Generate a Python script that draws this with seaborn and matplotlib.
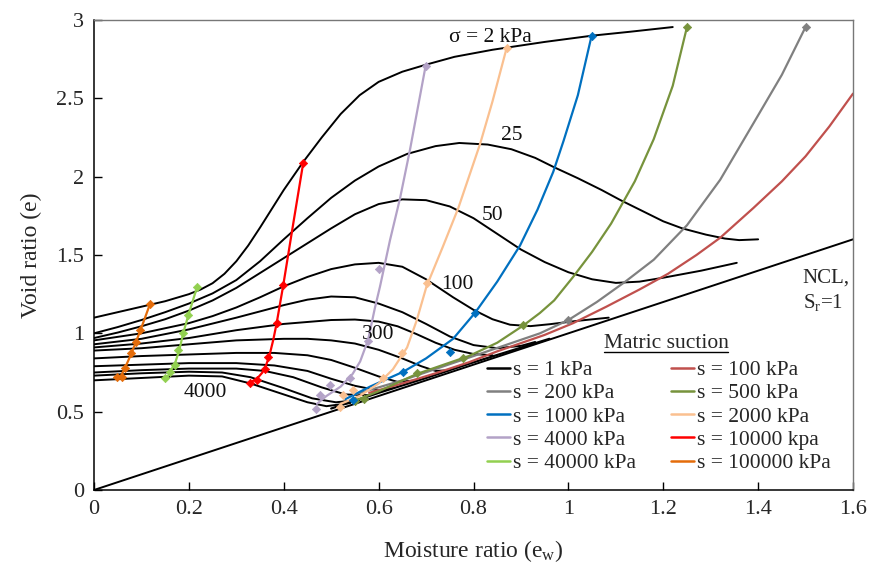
import numpy as np
import pandas as pd
import matplotlib
matplotlib.use("Agg")
import matplotlib.pyplot as plt
from matplotlib.lines import Line2D
import seaborn as sns

# ---------------- data ----------------
# constant net-stress curves (black)
c1_x = [0, 0.05, 0.1, 0.15, 0.2, 0.225, 0.25, 0.275, 0.3, 0.325, 0.35, 0.375, 0.4, 0.44, 0.48, 0.52, 0.56, 0.6, 0.65, 0.7, 0.76, 0.84, 0.95, 1.05, 1.13, 1.22]
c1_y = [1.10, 1.135, 1.17, 1.205, 1.25, 1.28, 1.32, 1.38, 1.46, 1.56, 1.675, 1.795, 1.915, 2.09, 2.25, 2.40, 2.52, 2.605, 2.67, 2.715, 2.765, 2.81, 2.86, 2.90, 2.925, 2.955]
c2_x = [0, 0.05, 0.1, 0.15, 0.2, 0.25, 0.3, 0.35, 0.4, 0.45, 0.5, 0.55, 0.6, 0.66, 0.72, 0.77, 0.83, 0.88, 0.93, 0.97, 1.02, 1.07, 1.11, 1.16, 1.2, 1.24, 1.29, 1.33, 1.36, 1.40]
c2_y = [1.00, 1.04, 1.085, 1.135, 1.19, 1.255, 1.34, 1.46, 1.60, 1.735, 1.865, 1.975, 2.065, 2.145, 2.195, 2.215, 2.205, 2.175, 2.12, 2.06, 1.99, 1.915, 1.85, 1.775, 1.715, 1.67, 1.63, 1.605, 1.595, 1.60]
c3_x = [0, 0.05, 0.1, 0.15, 0.2, 0.25, 0.3, 0.35, 0.4, 0.45, 0.5, 0.55, 0.6, 0.65, 0.7, 0.75, 0.8, 0.85, 0.9, 0.95, 1.0, 1.05, 1.1, 1.15, 1.2, 1.28, 1.355]
c3_y = [0.97, 1.005, 1.045, 1.09, 1.145, 1.21, 1.29, 1.385, 1.48, 1.575, 1.67, 1.76, 1.825, 1.855, 1.85, 1.81, 1.735, 1.635, 1.535, 1.455, 1.39, 1.345, 1.322, 1.33, 1.355, 1.40, 1.45]
c4_x = [0, 0.1, 0.2, 0.25, 0.3, 0.35, 0.4, 0.45, 0.5, 0.55, 0.6, 0.65, 0.7, 0.757, 0.8, 0.84, 0.877, 0.92, 0.96, 1.02, 1.085]
c4_y = [0.955, 1.0, 1.065, 1.11, 1.165, 1.23, 1.30, 1.36, 1.41, 1.44, 1.45, 1.425, 1.345, 1.23, 1.15, 1.09, 1.055, 1.046, 1.058, 1.08, 1.10]
c5_x = [0, 0.1, 0.2, 0.3, 0.35, 0.4, 0.45, 0.5, 0.55, 0.6, 0.65, 0.7, 0.75, 0.8, 0.85, 0.9, 0.93]
c5_y = [0.93, 0.965, 1.025, 1.10, 1.14, 1.18, 1.215, 1.235, 1.23, 1.19, 1.135, 1.06, 0.98, 0.925, 0.905, 0.92, 0.945]
c6_x = [0, 0.1, 0.2, 0.3, 0.4, 0.5, 0.55, 0.6, 0.64, 0.68, 0.72, 0.76, 0.80, 0.84]
c6_y = [0.91, 0.935, 0.97, 1.02, 1.06, 1.085, 1.088, 1.075, 1.045, 0.995, 0.94, 0.895, 0.868, 0.86]
c7_x = [0, 0.1, 0.2, 0.3, 0.4, 0.45, 0.5, 0.55, 0.6, 0.65, 0.69, 0.72, 0.75]
c7_y = [0.89, 0.905, 0.93, 0.955, 0.965, 0.965, 0.955, 0.935, 0.895, 0.84, 0.79, 0.76, 0.765]
c8_x = [0, 0.1, 0.2, 0.3, 0.38, 0.45, 0.5, 0.55, 0.6, 0.64, 0.68]
c8_y = [0.84, 0.855, 0.865, 0.875, 0.875, 0.86, 0.83, 0.78, 0.725, 0.69, 0.70]
c9_x = [0, 0.1, 0.2, 0.3, 0.38, 0.45, 0.5, 0.55, 0.6, 0.63]
c9_y = [0.79, 0.80, 0.81, 0.81, 0.795, 0.76, 0.71, 0.665, 0.635, 0.65]
c10_x = [0, 0.1, 0.2, 0.3, 0.36, 0.42, 0.48, 0.53, 0.58]
c10_y = [0.75, 0.765, 0.775, 0.775, 0.76, 0.72, 0.655, 0.61, 0.605]
c11_x = [0, 0.1, 0.2, 0.27, 0.33, 0.4, 0.46, 0.51, 0.56]
c11_y = [0.73, 0.745, 0.755, 0.75, 0.72, 0.65, 0.585, 0.56, 0.575]
c12_x = [0, 0.1, 0.2, 0.27, 0.33, 0.4, 0.45, 0.49, 0.54]
c12_y = [0.70, 0.715, 0.73, 0.725, 0.68, 0.61, 0.56, 0.535, 0.555]

ncl_x = [0, 1.6]
ncl_y = [0, 1.6]

# matric suction lines (line points and data markers)
s1_x = [0.50, 0.60, 0.70, 0.80, 0.96]
s1_y = [0.52, 0.62, 0.715, 0.815, 0.965]
s100_x = [0.58, 0.65, 0.72, 0.79, 0.85, 0.95, 1.01, 1.08, 1.15, 1.21, 1.27, 1.32, 1.39, 1.45, 1.50, 1.55, 1.60]
s100_y = [0.62, 0.68, 0.745, 0.815, 0.885, 0.99, 1.065, 1.17, 1.28, 1.38, 1.50, 1.61, 1.80, 1.97, 2.13, 2.32, 2.53]
s200_x = [0.55, 0.65, 0.80, 0.94, 1.00, 1.06, 1.12, 1.18, 1.25, 1.32, 1.39, 1.45, 1.50]
s200_y = [0.61, 0.70, 0.855, 1.00, 1.085, 1.20, 1.33, 1.47, 1.69, 1.98, 2.34, 2.65, 2.955]
s200_mx = [1.00, 1.50]
s200_my = [1.085, 2.955]
s500_x = [0.55, 0.60, 0.68, 0.79, 0.85, 0.905, 0.94, 0.97, 1.01, 1.05, 1.09, 1.14, 1.18, 1.22, 1.25]
s500_y = [0.57, 0.63, 0.74, 0.855, 0.94, 1.05, 1.13, 1.21, 1.36, 1.52, 1.70, 1.97, 2.24, 2.58, 2.955]
s500_mx = [0.55, 0.57, 0.68, 0.778, 0.905, 1.25]
s500_my = [0.57, 0.58, 0.745, 0.84, 1.053, 2.955]
s1000_x = [0.53, 0.582, 0.652, 0.70, 0.757, 0.803, 0.85, 0.898, 0.935, 0.968, 0.99, 1.02, 1.049]
s1000_y = [0.58, 0.66, 0.755, 0.84, 0.965, 1.13, 1.33, 1.56, 1.79, 2.03, 2.23, 2.52, 2.90]
s1000_mx = [0.545, 0.652, 0.75, 0.803, 1.049]
s1000_my = [0.575, 0.755, 0.883, 1.13, 2.90]
s2000_x = [0.52, 0.56, 0.60, 0.63, 0.66, 0.68, 0.701, 0.735, 0.768, 0.814, 0.84, 0.87]
s2000_y = [0.55, 0.60, 0.68, 0.77, 0.91, 1.08, 1.30, 1.55, 1.80, 2.21, 2.48, 2.823]
s2000_mx = [0.519, 0.525, 0.547, 0.61, 0.649, 0.701, 0.87]
s2000_my = [0.53, 0.606, 0.638, 0.713, 0.876, 1.319, 2.823]
s4000_x = [0.47, 0.49, 0.52, 0.545, 0.561, 0.578, 0.592, 0.603, 0.624, 0.645, 0.666, 0.699]
s4000_y = [0.55, 0.60, 0.66, 0.74, 0.82, 0.96, 1.16, 1.30, 1.595, 1.86, 2.17, 2.706]
s4000_mx = [0.469, 0.476, 0.497, 0.54, 0.578, 0.60, 0.699]
s4000_my = [0.52, 0.606, 0.67, 0.713, 0.95, 1.41, 2.706]
s10000_x = [0.329, 0.345, 0.355, 0.362, 0.37, 0.378, 0.385, 0.399, 0.42, 0.441]
s10000_y = [0.685, 0.715, 0.75, 0.79, 0.86, 0.96, 1.064, 1.308, 1.70, 2.087]
s10000_mx = [0.329, 0.343, 0.36, 0.367, 0.385, 0.399, 0.441]
s10000_my = [0.685, 0.70, 0.77, 0.847, 1.064, 1.308, 2.087]
s40000_x = [0.152, 0.16, 0.172, 0.18, 0.188, 0.199, 0.217]
s40000_y = [0.705, 0.75, 0.82, 0.895, 1.0, 1.117, 1.293]
s40000_mx = [0.15, 0.16, 0.171, 0.178, 0.188, 0.199, 0.217]
s40000_my = [0.713, 0.755, 0.798, 0.893, 1.0, 1.117, 1.293]
s100000_x = [0.05, 0.057, 0.065, 0.079, 0.0885, 0.098, 0.118]
s100000_y = [0.715, 0.73, 0.777, 0.872, 0.946, 1.02, 1.187]
s100000_mx = [0.048, 0.059, 0.065, 0.079, 0.0885, 0.098, 0.118]
s100000_my = [0.72, 0.72, 0.777, 0.872, 0.946, 1.02, 1.187]

x_ticks = [0, 0.2, 0.4, 0.6, 0.8, 1.0, 1.2, 1.4, 1.6]
x_tick_labels = ["0", "0.2", "0.4", "0.6", "0.8", "1", "1.2", "1.4", "1.6"]
y_ticks = [0, 0.5, 1.0, 1.5, 2.0, 2.5, 3.0]
y_tick_labels = ["0", "0.5", "1", "1.5", "2", "2.5", "3"]

stress_labels = ["\u03c3 = 2 kPa", "25", "50", "100", "300", "4000"]
stress_label_x = [0.835, 0.881, 0.839, 0.767, 0.599, 0.234]
stress_label_y = [2.89, 2.265, 1.755, 1.31, 0.99, 0.62]

# ---------------- styling ----------------
sns.set_theme(style="white")
plt.rcParams["font.family"] = ["Liberation Serif", "DejaVu Serif"]
plt.rcParams["mathtext.fontset"] = "custom"
plt.rcParams["mathtext.rm"] = "Liberation Serif"
plt.rcParams["mathtext.it"] = "Liberation Serif:italic"

W, H = 871, 571
fig = plt.figure(figsize=(W / 100, H / 100), dpi=100)
ax = fig.add_axes([94 / W, 1 - 490 / H, (853 - 94) / W, (490 - 20) / H])

black_curves = [(c1_x, c1_y), (c2_x, c2_y), (c3_x, c3_y), (c4_x, c4_y), (c5_x, c5_y),
                (c6_x, c6_y), (c7_x, c7_y), (c8_x, c8_y), (c9_x, c9_y), (c10_x, c10_y),
                (c11_x, c11_y), (c12_x, c12_y)]
for cx, cy in black_curves:
    sns.lineplot(x=cx, y=cy, sort=False, estimator=None, color="black", lw=1.4, ax=ax)

sns.lineplot(x=ncl_x, y=ncl_y, sort=False, estimator=None, color="black", lw=1.4, ax=ax)

suction = [
    ("s = 1 kPa", "black", s1_x, s1_y, [], []),
    ("s = 100 kPa", "#C0504D", s100_x, s100_y, [], []),
    ("s = 200 kPa", "#808080", s200_x, s200_y, s200_mx, s200_my),
    ("s = 500 kPa", "#77933C", s500_x, s500_y, s500_mx, s500_my),
    ("s = 1000 kPa", "#0070C0", s1000_x, s1000_y, s1000_mx, s1000_my),
    ("s = 2000 kPa", "#FAC090", s2000_x, s2000_y, s2000_mx, s2000_my),
    ("s = 4000 kPa", "#B3A2C7", s4000_x, s4000_y, s4000_mx, s4000_my),
    ("s = 10000 kpa", "#FF0000", s10000_x, s10000_y, s10000_mx, s10000_my),
    ("s = 40000 kPa", "#92D050", s40000_x, s40000_y, s40000_mx, s40000_my),
    ("s = 100000 kPa", "#E46C0A", s100000_x, s100000_y, s100000_mx, s100000_my),
]
handles = {}
for name, col, lx, ly, mx, my in suction:
    sns.lineplot(x=lx, y=ly, sort=False, estimator=None, color=col, lw=1.6, ax=ax)
    if mx:
        sns.scatterplot(x=mx, y=my, marker="D", s=18, color=col, edgecolor=col, linewidth=0.5, ax=ax, zorder=4)
    handles[name] = Line2D([], [], color=col, lw=1.8)

for t, tx, ty in zip(stress_labels, stress_label_x, stress_label_y):
    ax.text(tx, ty, t, fontsize=15.5, ha="center", va="center", color="#111111")
ax.text(1.494, 1.35, "NCL,", fontsize=15, ha="left", va="center")
ax.text(1.494, 1.20, "S$_\\mathrm{r}$=1", fontsize=15, ha="left", va="center")

ax.set_xlim(0, 1.6)
ax.set_ylim(0, 3)
ax.set_xticks(x_ticks)
ax.set_xticklabels(x_tick_labels)
ax.set_yticks(y_ticks)
ax.set_yticklabels(y_tick_labels)
ax.tick_params(axis="both", which="major", direction="in", length=6, width=1,
               labelsize=16, color="black", pad=7, bottom=True, left=True)
for side in ["left", "bottom"]:
    ax.spines[side].set_color("black")
    ax.spines[side].set_linewidth(1.1)
for side in ["top", "right"]:
    ax.spines[side].set_color("#777777")
    ax.spines[side].set_linewidth(1.0)
ax.set_xlabel("Moisture ratio (e$_\\mathrm{w}$)", fontsize=17, labelpad=14)
ax.set_ylabel("Void ratio (e)", fontsize=17, labelpad=10)

order = ["s = 1 kPa", "s = 200 kPa", "s = 1000 kPa", "s = 4000 kPa", "s = 40000 kPa",
         "s = 100 kPa", "s = 500 kPa", "s = 2000 kPa", "s = 10000 kpa", "s = 100000 kPa"]
leg = ax.legend([handles[k] for k in order], order, ncol=2, frameon=False,
                fontsize=15.5, handlelength=1.07, handletextpad=0.15, columnspacing=1.6,
                labelspacing=0.15, loc="upper left",
                bbox_to_anchor=(487 / W, 1 - 360 / H), bbox_transform=fig.transFigure,
                borderaxespad=0, borderpad=0)

title = fig.text(666 / W, 1 - 343 / H, "Matric suction", fontsize=15.5, ha="center", va="center")
fig.canvas.draw()
bb = title.get_window_extent()
fig.add_artist(Line2D([bb.x0 / W, bb.x1 / W], [(bb.y0 + 1) / H, (bb.y0 + 1) / H],
                      color="black", lw=1.0, transform=fig.transFigure))

fig.savefig("out.png", dpi=100)
